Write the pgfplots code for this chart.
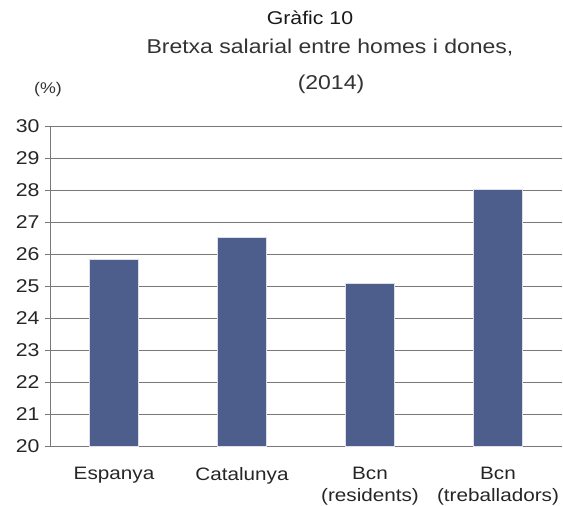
\documentclass[border=0pt]{standalone}
\usepackage{pgfplots}
\pgfplotsset{compat=1.18}
\usepackage{fontspec}
\setmainfont[FakeStretch=1.15]{Liberation Sans}
\definecolor{barcol}{RGB}{78,94,140}
\definecolor{gridcol}{RGB}{120,120,120}
\begin{document}
\begin{tikzpicture}
\begin{axis}[
  scale only axis,
  width=512pt, height=320pt,
  xmin=-0.5, xmax=3.5, ymin=20, ymax=30,
  axis x line*=bottom, axis y line*=left,
  axis line style={gridcol, line width=0.8pt},
  ytick={20,21,...,30},
  ymajorgrids,
  grid style={gridcol, line width=0.8pt},
  ytick style={gridcol, line width=0.8pt},
  tick align=outside,
  major tick length=5pt,
  xtick={0,1,2,3},
  xticklabels={Espanya, Catalunya, {Bcn\\(residents)}, {Bcn\\(treballadors)}},
  xticklabel style={align=center, font=\fontsize{18}{22}\selectfont, text=black!85, yshift=-13pt},
  yticklabel style={font=\fontsize{18.5}{22}\selectfont, text=black!85, xshift=-2pt},
  /pgf/number format/assume math mode=true,
  xtick style={draw=none},
  extra x ticks={-0.5,0.5,1.5,2.5,3.5},
  extra x tick labels={},
  extra x tick style={grid=none, tick style={draw=gridcol, line width=0.8pt}, major tick length=6pt},
  ybar, bar width=49pt,
  clip=false,
]
\addplot[fill=barcol, draw=white!80!barcol, line width=0.6pt] coordinates {(0,25.83) (1,26.52) (2,25.08) (3,28.02)};
\coordinate (sw) at (rel axis cs:0,0);
\coordinate (nw) at (rel axis cs:0,1);
\end{axis}
\node[font=\fontsize{18.5}{20}\selectfont, text=black!90] at ([shift={(260pt,108pt)}]nw) {Gràfic 10};
\node[font=\fontsize{20}{20}\selectfont, text=black!80] at ([shift={(280pt,78pt)}]nw) {Bretxa salarial entre homes i dones,};
\node[font=\fontsize{20}{20}\selectfont, text=black!80] at ([shift={(281pt,42pt)}]nw) {(2014)};
\node[font=\fontsize{15.5}{18}\selectfont, text=black!80] at ([shift={(-2pt,37pt)}]nw) {(\%)};
\pgfresetboundingbox
\path[use as bounding box] ([shift={(-50pt,-60pt)}]sw) rectangle ++(563pt,506pt);
\end{tikzpicture}
\end{document}
